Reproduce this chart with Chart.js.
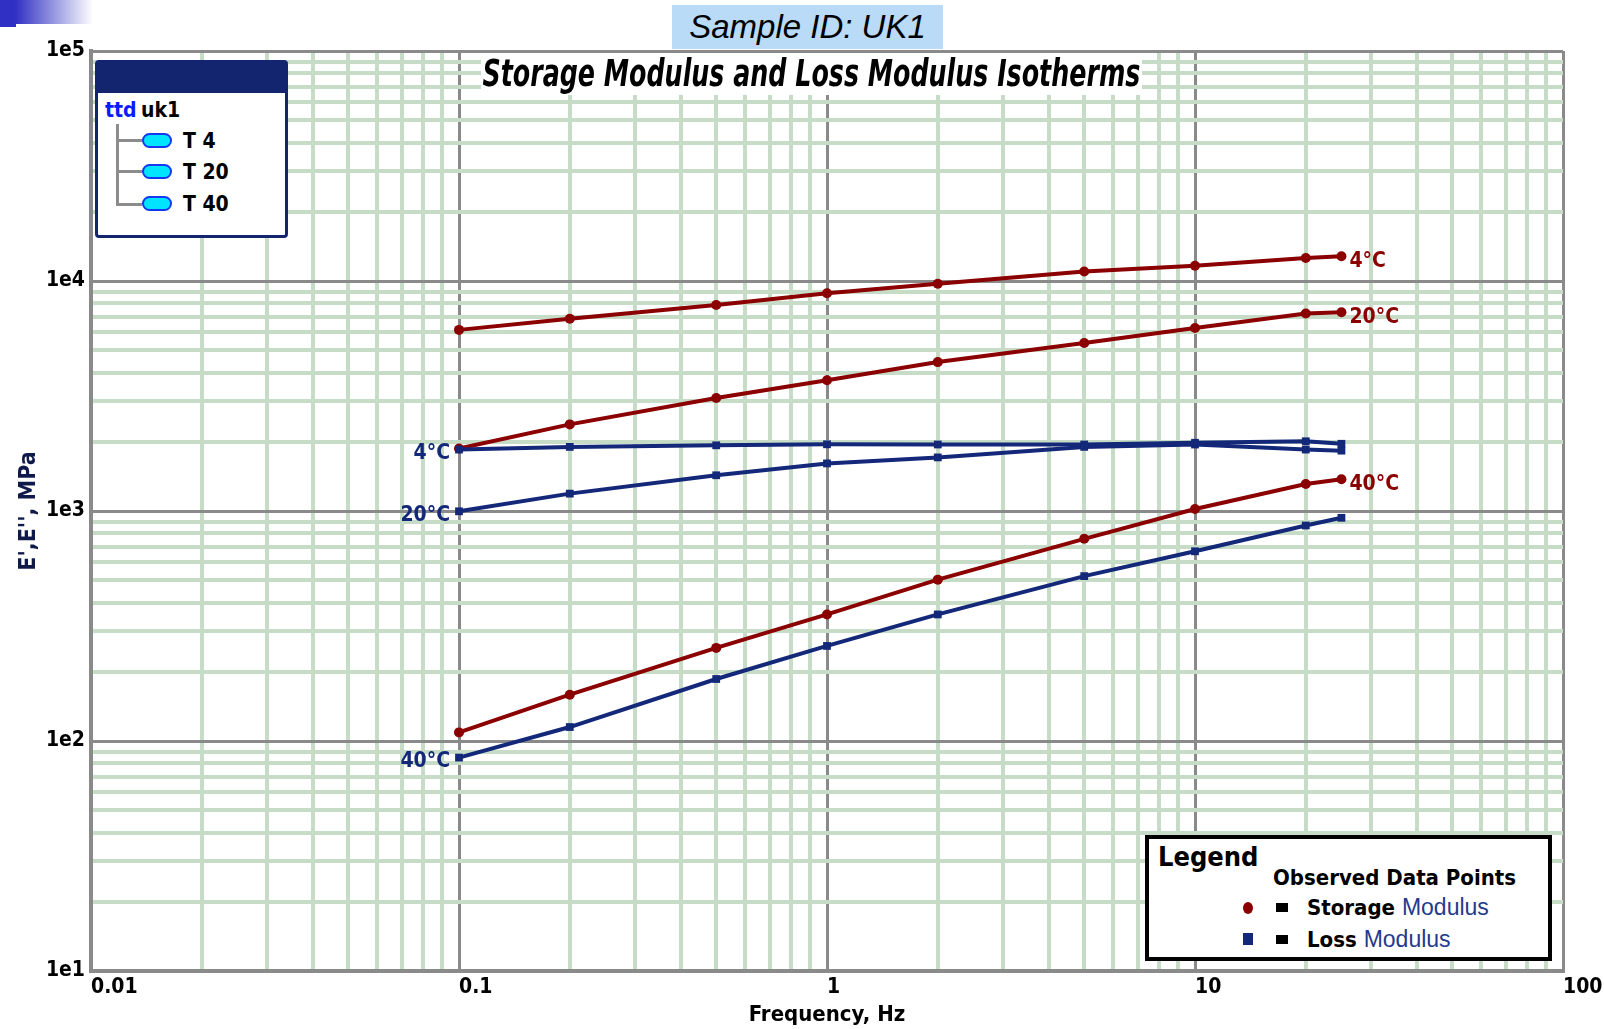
<!DOCTYPE html>
<html>
<head>
<meta charset="utf-8">
<title>Storage Modulus and Loss Modulus Isotherms</title>
<script src="https://cdn.jsdelivr.net/npm/chart.js@4.4.1/dist/chart.umd.min.js"></script>
<style>
    html, body { margin: 0; padding: 0; background: #fff; }
    #contenedor { position: relative; width: 1604px; height: 1029px; overflow: hidden; }
    #grafica { position: absolute; left: 0; top: 0; }
    .caja { position: absolute; box-sizing: border-box; }
    .negrita { font-family: "DejaVu Sans Condensed", "DejaVu Sans", sans-serif; font-weight: bold; white-space: nowrap; }

    #barraEsquina { left: 0; top: 0; width: 93px; height: 24px;
        background: linear-gradient(to right, #3030c4 0%, #3030c4 16%, #ffffff 100%); }
    #barraEsquina2 { left: 0; top: 24px; width: 16px; height: 3px; background: #3030c4; }

    #muestra { left: 672px; top: 5px; width: 271px; height: 44px; background: #b9dbf8;
        font-family: "Liberation Sans", Arial, sans-serif; font-style: italic; font-size: 33px;
        line-height: 44px; text-align: center; color: #000; white-space: nowrap; }

    #titulo { left: 481px; top: 53px; width: 661px; height: 42px; background: #fff;
        display: flex; justify-content: center; align-items: center; white-space: nowrap; }
    #tituloTexto { display: block; flex: none; transform-origin: 50% 50%;
        font-family: "DejaVu Sans Condensed", "DejaVu Sans", sans-serif; font-weight: bold;
        font-style: italic; font-size: 37px; line-height: 40px; color: #000; }

    #arbol { left: 95px; top: 60px; width: 193px; height: 178px; background: #fff;
        border: 3px solid #13256e; border-radius: 4px; }
    #arbol .cabecera { position: absolute; left: 0; top: 0; width: 100%; height: 30px; background: #13256e; }
    #arbol .txt { position: absolute; font-size: 21px; line-height: 22px; color: #000; }
    #arbol .rama { position: absolute; background: #8c8c8c; }
    #arbol .pastilla { position: absolute; width: 30px; height: 15px; box-sizing: border-box;
        background: #00e4ff; border: 2px solid #1438f0; border-radius: 8px; }

    #leyenda { left: 1145px; top: 835px; width: 407px; height: 126px; background: #fff;
        border: 4px solid #000; }
    #leyenda .txt { position: absolute; color: #000; line-height: 24px; }
    #leyenda .mod { font-family: "Liberation Sans", Arial, sans-serif; font-weight: normal; color: #243a8c; }
    #leyenda .marca { position: absolute; }
</style>
</head>
<body>
<div id="contenedor">
    <canvas id="grafica" width="1604" height="1029"></canvas>

    <div class="caja" id="barraEsquina"></div>
    <div class="caja" id="barraEsquina2"></div>
    <div class="caja" id="muestra">Sample ID: UK1</div>
    <div class="caja" id="titulo"><span id="tituloTexto">Storage Modulus and Loss Modulus Isotherms</span></div>

    <div class="caja" id="arbol">
        <div class="cabecera"></div>
        <div class="txt negrita" style="left:7px; top:36px; color:#0a1cff;">ttd</div>
        <div class="txt negrita" style="left:43px; top:36px;">uk1</div>
        <div class="rama" style="left:18px; top:61px; width:3px; height:82px;"></div>
        <div class="rama" style="left:18px; top:76px; width:26px; height:3px;"></div>
        <div class="rama" style="left:18px; top:107px; width:26px; height:3px;"></div>
        <div class="rama" style="left:18px; top:140px; width:26px; height:3px;"></div>
        <div class="pastilla" style="left:44px; top:70px;"></div>
        <div class="pastilla" style="left:44px; top:101px;"></div>
        <div class="pastilla" style="left:44px; top:133px;"></div>
        <div class="txt negrita" style="left:85px; top:67px;">T 4</div>
        <div class="txt negrita" style="left:85px; top:98px;">T 20</div>
        <div class="txt negrita" style="left:85px; top:130px;">T 40</div>
    </div>

    <div class="caja" id="leyenda">
        <div class="txt negrita" style="left:9px; top:4px; font-size:27px; line-height:28px;">Legend</div>
        <div class="txt negrita" style="left:124px; top:27px; font-size:22px;">Observed Data Points</div>
        <div class="marca" style="left:94px; top:63px; width:10px; height:12px; border-radius:50%; background:#8b0000;"></div>
        <div class="marca" style="left:127px; top:64px; width:12px; height:9px; background:#000;"></div>
        <div class="txt negrita" style="left:158px; top:56px; font-size:22px;">Storage <span class="mod" style="font-size:23px;">Modulus</span></div>
        <div class="marca" style="left:94px; top:94px; width:10px; height:12px; background:#14287a;"></div>
        <div class="marca" style="left:127px; top:96px; width:12px; height:9px; background:#000;"></div>
        <div class="txt negrita" style="left:158px; top:88px; font-size:22px;">Loss <span class="mod" style="font-size:23px;">Modulus</span></div>
    </div>
</div>

<script>
// frequencies (Hz) of the measured points
const frecuencias = [0.1, 0.2, 0.5, 1, 2, 5, 10, 20, 25];

// storage modulus E' (MPa)
const almacenamiento4 = [6130, 6850, 7870, 8840, 9720, 11000, 11650, 12600, 12820];
const almacenamiento20 = [1870, 2380, 3100, 3700, 4440, 5380, 6250, 7220, 7320];
const almacenamiento40 = [109, 159, 254, 355, 503, 757, 1020, 1310, 1375];

// loss modulus E'' (MPa)
const perdida4 = [1850, 1900, 1930, 1950, 1946, 1946, 1980, 2010, 1960];
const perdida20 = [997, 1190, 1430, 1610, 1710, 1900, 1946, 1850, 1830];
const perdida40 = [84.7, 115, 186, 259, 355, 521, 668, 865, 934];

const etiquetasCurvas = ['4°C', '20°C', '40°C'];

const xTickValores = [0.01, 0.1, 1, 10, 100];
const xTickEtiquetas = ['0.01', '0.1', '1', '10', '100'];
const yTickValores = [10, 100, 1000, 10000, 100000];
const yTickEtiquetas = ['1e1', '1e2', '1e3', '1e4', '1e5'];

const rojo = '#8b0000';
const azul = '#14287a';
const gris = '#8a8a8a';
const verde = '#c6dcc6';
const fuenteNegrita = '"DejaVu Sans Condensed", "DejaVu Sans", sans-serif';

// squeeze the title into the white band above the grid
const tituloTexto = document.getElementById('tituloTexto');
const anchoTitulo = tituloTexto.getBoundingClientRect().width;
tituloTexto.style.transform = 'scaleX(' + (658 / anchoTitulo) + ')';

function puntos(valores) {
    return frecuencias.map((f, i) => ({ x: f, y: valores[i] }));
}

// 1..9 x 10^n between the decade values
function ticksLog(decadas) {
    const ticks = [];
    for (let d = 0; d < decadas.length - 1; d++) {
        for (let k = 1; k < 10; k++) {
            ticks.push({ value: decadas[d] * k });
        }
    }
    ticks.push({ value: decadas[decadas.length - 1] });
    return ticks;
}

function esDecada(v, decadas) {
    return decadas.some(d => Math.abs(v - d) / d < 1e-6);
}

function etiqueta(v, decadas, textos) {
    const i = decadas.findIndex(d => Math.abs(v - d) / d < 1e-6);
    return i === -1 ? '' : textos[i];
}

function serie(nombre, valores, color, estilo, texto, lado) {
    return {
        label: nombre,
        data: puntos(valores),
        borderColor: color,
        backgroundColor: color,
        borderWidth: 4,
        pointStyle: estilo,
        pointRadius: estilo === 'rect' ? 5.5 : 5,
        pointBorderWidth: 0,
        pointBackgroundColor: color,
        tension: 0,
        etiqueta: texto,
        lado: lado
    };
}

// curve temperature labels next to the first / last point
const etiquetasPlugin = {
    id: 'etiquetasCurvas',
    afterDatasetsDraw(chart) {
        const ctx = chart.ctx;
        ctx.save();
        ctx.font = 'bold 21px ' + fuenteNegrita;
        ctx.textBaseline = 'middle';
        chart.data.datasets.forEach((ds, i) => {
            const pts = chart.getDatasetMeta(i).data;
            ctx.fillStyle = ds.borderColor;
            if (ds.lado === 'derecha') {
                const p = pts[pts.length - 1];
                ctx.textAlign = 'left';
                ctx.fillText(ds.etiqueta, p.x + 8, p.y + 5);
            } else {
                const p = pts[0];
                ctx.textAlign = 'right';
                ctx.fillText(ds.etiqueta, p.x - 9, p.y + 4);
            }
        });
        ctx.restore();
    }
};

const ctx = document.getElementById('grafica').getContext('2d');

new Chart(ctx, {
    type: 'line',
    data: {
        datasets: [
            serie("E'' 4", perdida4, azul, 'rect', etiquetasCurvas[0], 'izquierda'),
            serie("E'' 20", perdida20, azul, 'rect', etiquetasCurvas[1], 'izquierda'),
            serie("E'' 40", perdida40, azul, 'rect', etiquetasCurvas[2], 'izquierda'),
            serie("E' 4", almacenamiento4, rojo, 'circle', etiquetasCurvas[0], 'derecha'),
            serie("E' 20", almacenamiento20, rojo, 'circle', etiquetasCurvas[1], 'derecha'),
            serie("E' 40", almacenamiento40, rojo, 'circle', etiquetasCurvas[2], 'derecha')
        ]
    },
    options: {
        responsive: false,
        animation: false,
        devicePixelRatio: 1,
        layout: { padding: { top: 51, right: 41, left: 0, bottom: 0 } },
        plugins: {
            legend: { display: false },
            tooltip: { enabled: false }
        },
        scales: {
            x: {
                type: 'logarithmic',
                min: xTickValores[0],
                max: xTickValores[xTickValores.length - 1],
                afterBuildTicks: axis => { axis.ticks = ticksLog(xTickValores); },
                afterFit: axis => { axis.height = 58; axis.paddingLeft = 0; axis.paddingRight = 0; },
                grid: {
                    color: c => esDecada(c.tick.value, xTickValores) ? gris : verde,
                    lineWidth: c => esDecada(c.tick.value, xTickValores) ? 3 : 4,
                    drawTicks: false
                },
                border: { color: gris, width: 4 },
                ticks: {
                    align: 'start',
                    padding: 4,
                    autoSkip: false,
                    maxRotation: 0,
                    color: '#000',
                    font: { family: fuenteNegrita, weight: 'bold', size: 21 },
                    callback: v => etiqueta(v, xTickValores, xTickEtiquetas)
                },
                title: {
                    display: true,
                    text: 'Frequency, Hz',
                    color: '#000',
                    font: { family: fuenteNegrita, weight: 'bold', size: 22 },
                    padding: { top: 0, bottom: 1 }
                }
            },
            y: {
                type: 'logarithmic',
                min: yTickValores[0],
                max: yTickValores[yTickValores.length - 1],
                afterBuildTicks: axis => { axis.ticks = ticksLog(yTickValores); },
                afterFit: axis => { axis.width = 91; axis.paddingTop = 0; axis.paddingBottom = 0; },
                grid: {
                    color: c => esDecada(c.tick.value, yTickValores) ? gris : verde,
                    lineWidth: c => esDecada(c.tick.value, yTickValores) ? 3 : 4,
                    drawTicks: false
                },
                border: { color: gris, width: 4 },
                ticks: {
                    padding: 6,
                    autoSkip: false,
                    color: '#000',
                    font: { family: fuenteNegrita, weight: 'bold', size: 21 },
                    callback: v => etiqueta(v, yTickValores, yTickEtiquetas)
                },
                title: {
                    display: true,
                    text: "E',E'', MPa",
                    color: '#101a4a',
                    font: { family: fuenteNegrita, weight: 'bold', size: 23 },
                    padding: { top: 15, bottom: 0 }
                }
            }
        }
    },
    plugins: [etiquetasPlugin]
});
</script>
</body>
</html>
